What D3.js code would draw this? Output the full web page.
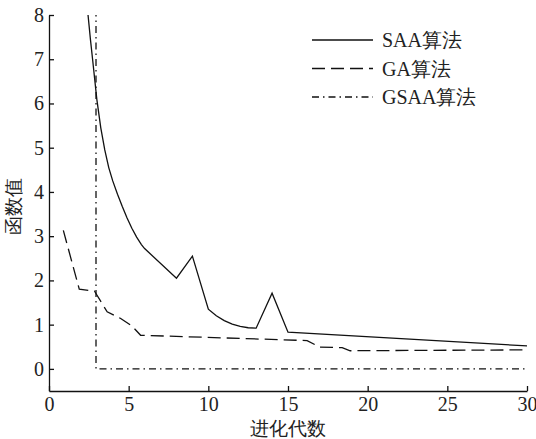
<!DOCTYPE html>
<html>
<head>
<meta charset="utf-8">
<script src="https://cdn.jsdelivr.net/npm/d3@7"></script>
<style>
  body { margin: 0; background: #fff; }
  svg text { font-family: "Liberation Serif", serif; fill: #222; }
</style>
</head>
<body>
<div id="chart"></div>
<script>
// SAA curve (generation, value)
var saaGen = [2.45, 2.6, 2.75, 3, 3.25, 3.5, 3.75, 4, 4.3, 4.6, 4.9, 5.2, 5.5, 5.8, 6, 8, 9, 10, 10.5, 11, 11.5, 12, 12.5, 13, 14, 15, 30];
var saaVal = [8, 7.45, 6.95, 6.1, 5.45, 4.95, 4.55, 4.25, 3.95, 3.67, 3.41, 3.18, 2.98, 2.81, 2.72, 2.05, 2.55, 1.35, 1.2, 1.09, 1.01, 0.96, 0.93, 0.92, 1.71, 0.83, 0.52];

// GA curve
var gaGen = [0.9, 1.9, 2.85, 3.65, 4.5, 5.2, 5.75, 16.2, 17, 18.4, 18.9, 30];
var gaVal = [3.13, 1.8, 1.76, 1.29, 1.14, 0.97, 0.76, 0.64, 0.49, 0.48, 0.41, 0.43];

// GSAA curve
var gsaaGen = [2.95, 2.95, 30];
var gsaaVal = [8.5, 0, 0];

var xTicks = [0, 5, 10, 15, 20, 25, 30];
var yTicks = [0, 1, 2, 3, 4, 5, 6, 7, 8];
var seriesNames = ["SAA算法", "GA算法", "GSAA算法"];

function draw() {
    var w = 536;
    var h = 439;
    var left = 49, right = 527, top = 15, bottom = 391;

    var x = d3.scaleLinear().domain([0, 30]).range([left, right]);
    var y = d3.scaleLinear().domain([-0.5, 8]).range([bottom, top]);

    var svg = d3.select("#chart")
                .append("svg")
                .attr("width", w)
                .attr("height", h);

    svg.append("clipPath")
        .attr("id", "plot")
        .append("rect")
        .attr("x", left)
        .attr("y", top)
        .attr("width", right - left)
        .attr("height", bottom - top);

    var line = d3.line()
                .x(function(d){ return x(d[0]); })
                .y(function(d){ return y(d[1]); });

    var series = [
        { pts: d3.zip(saaGen, saaVal), dash: null },
        { pts: d3.zip(gaGen, gaVal), dash: "13,6" },
        { pts: d3.zip(gsaaGen, gsaaVal), dash: "7,4,1.5,4" }
    ];

    svg.append("g")
        .attr("clip-path", "url(#plot)")
        .selectAll("path")
        .data(series)
        .enter()
        .append("path")
        .attr("d", function(d){ return line(d.pts); })
        .attr("fill", "none")
        .attr("stroke", "#111")
        .attr("stroke-width", 1.3)
        .attr("stroke-dasharray", function(d){ return d.dash; });

    // axes, ticks pointing inward
    var xAxis = svg.append("g")
        .attr("transform", "translate(0," + bottom + ")")
        .call(d3.axisBottom(x).tickValues(xTicks).tickSize(-5).tickSizeOuter(0).tickPadding(6));
    var yAxis = svg.append("g")
        .attr("transform", "translate(" + left + ",0)")
        .call(d3.axisLeft(y).tickValues(yTicks).tickSize(-5).tickSizeOuter(0).tickPadding(5));

    [xAxis, yAxis].forEach(function(g){
        g.attr("font-family", null).attr("font-size", 20);
        g.selectAll("path, line").attr("stroke", "#111").attr("stroke-width", 1.3);
        g.selectAll("text").attr("fill", "#222");
    });

    // axis titles
    svg.append("text")
        .attr("x", (left + right) / 2)
        .attr("y", 428)
        .attr("text-anchor", "middle")
        .attr("dominant-baseline", "central")
        .attr("font-size", 19)
        .text("进化代数");

    svg.append("text")
        .attr("transform", "translate(13,206) rotate(-90)")
        .attr("text-anchor", "middle")
        .attr("dominant-baseline", "central")
        .attr("font-size", 19)
        .text("函数值");

    // legend
    var legend = svg.selectAll("g.legend")
                    .data(series)
                    .enter()
                    .append("g")
                    .attr("class", "legend")
                    .attr("transform", function(d, i){
                        return "translate(312," + [40, 68.5, 97][i] + ")";
                    });

    legend.append("line")
        .attr("x1", 0)
        .attr("x2", 61)
        .attr("stroke", "#111")
        .attr("stroke-width", 1.3)
        .attr("stroke-dasharray", function(d){ return d.dash; });

    legend.append("text")
        .attr("x", 70)
        .attr("dominant-baseline", "central")
        .attr("font-size", 20)
        .text(function(d, i){ return seriesNames[i]; });
}

window.onload = draw;
</script>
</body>
</html>
